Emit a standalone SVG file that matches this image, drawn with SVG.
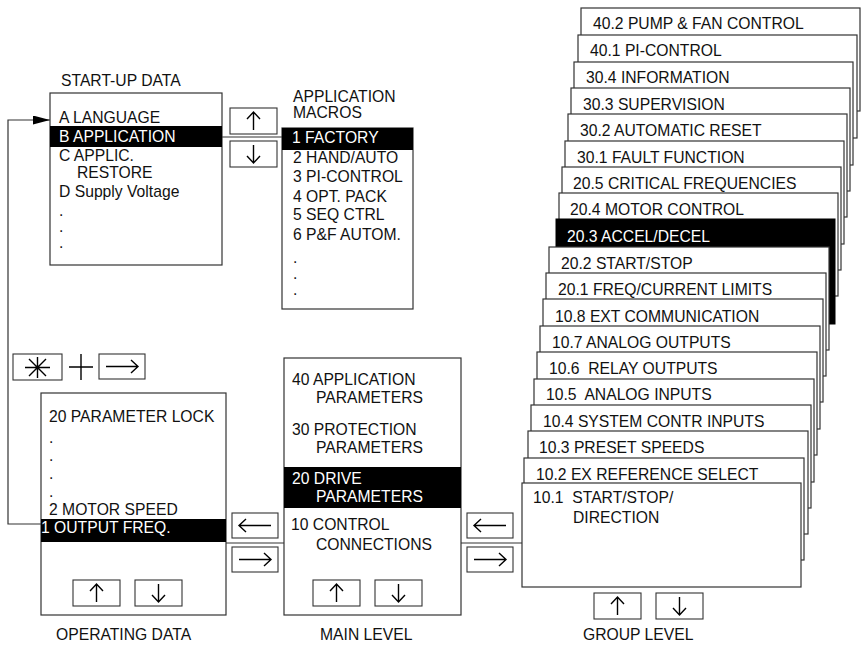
<svg xmlns="http://www.w3.org/2000/svg" width="862" height="646" viewBox="0 0 862 646">
<style>
text{font-family:"Liberation Sans",Arial,sans-serif;font-size:15.7px;fill:#111}
.w{fill:#fff}
.box{fill:#fff;stroke:#333;stroke-width:1.2}
.hl{fill:#000}
.btn{fill:#fff;stroke:#333;stroke-width:1.1}
.g{fill:none;stroke:#000;stroke-width:1.4}
.ln{fill:none;stroke:#333;stroke-width:1.2}
</style>
<defs>
<marker id="ah" viewBox="0 0 10 10" refX="10" refY="5" markerWidth="17" markerHeight="9" markerUnits="userSpaceOnUse" orient="auto" preserveAspectRatio="none"><path d="M0,0 L10,5 L0,10 Z" fill="#000"/></marker>
<g id="up"><rect class="btn" x="0" y="0" width="47" height="26"/><path class="g" d="M23.5,4 V22 M17,11 L23.5,4 L30,11"/></g>
<g id="dn"><rect class="btn" x="0" y="0" width="47" height="26"/><path class="g" d="M23.5,4 V22 M17,15 L23.5,22 L30,15"/></g>
<g id="lt"><rect class="btn" x="0" y="0" width="46" height="25"/><path class="g" d="M7,12.5 H39 M14,6 L7,12.5 L14,19"/></g>
<g id="rt"><rect class="btn" x="0" y="0" width="46" height="25"/><path class="g" d="M7,12.5 H39 M32,6 L39,12.5 L32,19"/></g>
</defs>

<g id="connectors">
<path class="ln" d="M41,524 H8 V120 H50" marker-end="url(#ah)"/>
<line class="ln" x1="222" y1="137" x2="282" y2="137"/>
<line class="ln" x1="226" y1="543" x2="284" y2="543"/>
<line class="ln" x1="461" y1="543" x2="522" y2="543"/>
</g>

<g id="startup-data">
<text x="61" y="86">START-UP DATA</text>
<rect class="box" x="50" y="93" width="172" height="172"/>
<rect class="hl" x="50" y="126" width="172" height="21"/>
<text x="59" y="123">A LANGUAGE</text>
<text class="w" x="59" y="142">B APPLICATION</text>
<text x="59" y="161">C APPLIC.</text>
<text x="77" y="178">RESTORE</text>
<text x="59" y="197">D Supply Voltage</text>
<text><tspan x="59" y="216">.</tspan><tspan x="59" y="232">.</tspan><tspan x="59" y="248">.</tspan></text>
</g>

<g id="startup-keys">
<use href="#up" x="230" y="108"/>
<use href="#dn" x="230" y="141"/>
</g>

<g id="application-macros">
<text><tspan x="293" y="102">APPLICATION</tspan><tspan x="293" y="118">MACROS</tspan></text>
<rect class="box" x="282" y="128" width="131" height="181"/>
<rect class="hl" x="282" y="128" width="131" height="22"/>
<text class="w" x="292" y="143">1 FACTORY</text>
<text x="293" y="163">2 HAND/AUTO</text>
<text x="293" y="182">3 PI-CONTROL</text>
<text x="293" y="202">4 OPT. PACK</text>
<text x="293" y="220">5 SEQ CTRL</text>
<text x="293" y="240">6 P&amp;F AUTOM.</text>
<text><tspan x="293" y="263">.</tspan><tspan x="293" y="279">.</tspan><tspan x="293" y="295">.</tspan></text>
</g>

<g id="key-combo">
<rect class="btn" x="13" y="354" width="49" height="26"/>
<path class="g" d="M25,367.5 H50 M37.5,357 V378 M29,359 L46,376 M46,359 L29,376"/>
<path class="g" d="M69,367 H93 M81,354 V380"/>
<use href="#rt" x="99" y="354"/>
</g>

<g id="operating-data">
<rect class="box" x="41" y="393" width="185" height="222"/>
<text x="49" y="422">20 PARAMETER LOCK</text>
<text><tspan x="49" y="443">.</tspan><tspan x="49" y="461">.</tspan><tspan x="49" y="479">.</tspan><tspan x="49" y="497">.</tspan></text>
<text x="49" y="515">2 MOTOR SPEED</text>
<rect class="hl" x="41" y="519" width="185" height="23"/>
<text class="w" x="41" y="533">1 OUTPUT FREQ.</text>
<use href="#up" x="73" y="580"/>
<use href="#dn" x="135" y="580"/>
<text x="56" y="640">OPERATING DATA</text>
</g>

<g id="op-main-keys">
<use href="#lt" x="232" y="513"/>
<use href="#rt" x="232" y="547"/>
</g>

<g id="main-level">
<rect class="box" x="284" y="358" width="177" height="257"/>
<rect class="hl" x="284" y="467" width="177" height="41"/>
<text x="292" y="385">40 APPLICATION</text>
<text x="316" y="403">PARAMETERS</text>
<text x="292" y="435">30 PROTECTION</text>
<text x="316" y="453">PARAMETERS</text>
<text class="w" x="292" y="484">20 DRIVE</text>
<text class="w" x="316" y="502">PARAMETERS</text>
<text x="291" y="530">10 CONTROL</text>
<text x="316" y="550">CONNECTIONS</text>
<use href="#up" x="313" y="580"/>
<use href="#dn" x="375" y="580"/>
<text x="320" y="640">MAIN LEVEL</text>
</g>

<g id="main-group-keys">
<use href="#lt" x="467" y="513"/>
<use href="#rt" x="467" y="547"/>
</g>

<g id="group-level">
<g id="g40-2"><rect class="box" x="581" y="8" width="279" height="103"/><text x="593" y="29">40.2 PUMP &amp; FAN CONTROL</text></g>
<g id="g40-1"><rect class="box" x="578" y="35" width="279" height="103"/><text x="590" y="56">40.1 PI-CONTROL</text></g>
<g id="g30-4"><rect class="box" x="574" y="62" width="279" height="103"/><text x="586" y="83">30.4 INFORMATION</text></g>
<g id="g30-3"><rect class="box" x="571" y="88" width="279" height="103"/><text x="583" y="110">30.3 SUPERVISION</text></g>
<g id="g30-2"><rect class="box" x="568" y="114" width="279" height="103"/><text x="580" y="136">30.2 AUTOMATIC RESET</text></g>
<g id="g30-1"><rect class="box" x="565" y="141" width="279" height="103"/><text x="577" y="163">30.1 FAULT FUNCTION</text></g>
<g id="g20-5"><rect class="box" x="562" y="167" width="279" height="103"/><text x="573" y="189">20.5 CRITICAL FREQUENCIES</text></g>
<g id="g20-4"><rect class="box" x="559" y="193" width="279" height="103"/><text x="570" y="215">20.4 MOTOR CONTROL</text></g>
<g id="g20-3"><rect x="556" y="219" width="279" height="105" fill="#000" stroke="#000"/><text class="w" x="567" y="242">20.3 ACCEL/DECEL</text></g>
<g id="g20-2"><rect class="box" x="549" y="247" width="280" height="103"/><text x="561" y="269">20.2 START/STOP</text></g>
<g id="g20-1"><rect class="box" x="546" y="273" width="280" height="103"/><text x="558" y="295">20.1 FREQ/CURRENT LIMITS</text></g>
<g id="g10-8"><rect class="box" x="543" y="299" width="280" height="103"/><text x="555" y="322">10.8 EXT COMMUNICATION</text></g>
<g id="g10-7"><rect class="box" x="540" y="326" width="280" height="103"/><text x="552" y="348">10.7 ANALOG OUTPUTS</text></g>
<g id="g10-6"><rect class="box" x="537" y="352" width="280" height="103"/><text x="549" y="374" xml:space="preserve">10.6  RELAY OUTPUTS</text></g>
<g id="g10-5"><rect class="box" x="534" y="379" width="280" height="103"/><text x="546" y="400" xml:space="preserve">10.5  ANALOG INPUTS</text></g>
<g id="g10-4"><rect class="box" x="531" y="405" width="280" height="103"/><text x="543" y="427">10.4 SYSTEM CONTR INPUTS</text></g>
<g id="g10-3"><rect class="box" x="528" y="431" width="280" height="103"/><text x="539" y="453">10.3 PRESET SPEEDS</text></g>
<g id="g10-2"><rect class="box" x="524" y="458" width="280" height="102"/><text x="536" y="480">10.2 EX REFERENCE SELECT</text></g>
<g id="g10-1"><rect class="box" x="522" y="483" width="279" height="104"/><text x="533" y="503" xml:space="preserve">10.1  START/STOP/</text><text x="573" y="523">DIRECTION</text></g>
<use href="#up" x="594" y="593"/>
<use href="#dn" x="656" y="593"/>
<text x="583" y="640">GROUP LEVEL</text>
</g>
</svg>
